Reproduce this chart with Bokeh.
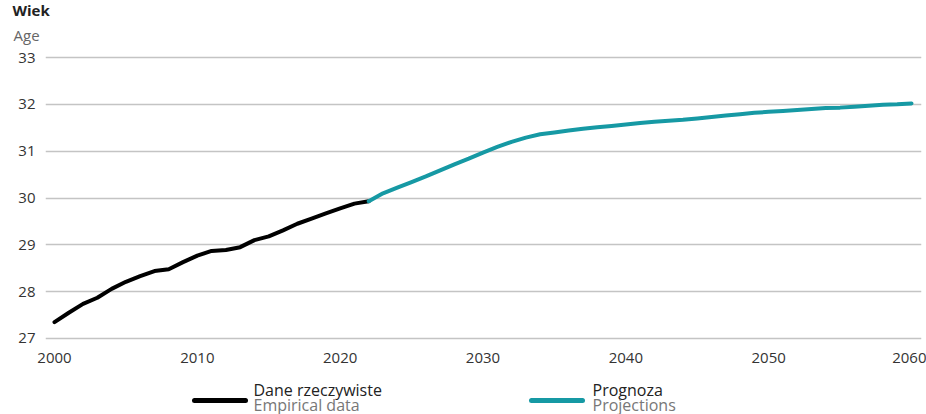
from bokeh.plotting import figure
from bokeh.models import Range1d, FixedTicker, Title
from bokeh.layouts import column
from bokeh.core.properties import value
from bokeh.embed import file_html
from bokeh.resources import INLINE

# ---- data ----
emp_years = list(range(2000, 2023))
emp_age = [27.35, 27.55, 27.74, 27.87, 28.06, 28.21, 28.33, 28.44, 28.48, 28.63,
           28.77, 28.87, 28.89, 28.95, 29.10, 29.18, 29.31, 29.45, 29.56, 29.67,
           29.78, 29.88, 29.93]
proj_years = list(range(2022, 2061))
proj_age = [29.93, 30.10, 30.22, 30.34, 30.46, 30.59, 30.72, 30.84, 30.97, 31.09,
            31.20, 31.29, 31.36, 31.40, 31.44, 31.48, 31.51, 31.54, 31.57, 31.60,
            31.63, 31.65, 31.67, 31.70, 31.73, 31.76, 31.79, 31.82, 31.84, 31.86,
            31.88, 31.90, 31.92, 31.93, 31.95, 31.97, 31.99, 32.00, 32.02]
x_ticks = [2000, 2010, 2020, 2030, 2040, 2050, 2060]
y_ticks = [27, 28, 29, 30, 31, 32, 33]
y_title_pl = "Wiek"
y_title_en = "Age"
leg_pl = ["Dane rzeczywiste", "Prognoza"]
leg_en = ["Empirical data", "Projections"]

BLACK = "#000000"
TEAL = "#1699a4"
FONT = "Open Sans"

W = 926
FL, FR = 45, 921          # frame left/right (page px)
FT, FB = 50, 345          # frame top/bottom (page px)
H1 = 366
H2 = 414 - H1

# ---- main chart ----
p = figure(width=W, height=H1, x_range=Range1d(1999.37, 2060.70),
           y_range=Range1d(26.85, 33.15), output_backend="svg",
           toolbar_location=None, min_border_left=FL, min_border_right=W - FR,
           min_border_top=FT, min_border_bottom=H1 - FB)
p.outline_line_color = None
p.background_fill_color = "white"
p.border_fill_color = "white"

for ax in (p.xaxis[0], p.yaxis[0]):
    ax.axis_line_color = None
    ax.major_tick_line_color = None
    ax.minor_tick_line_color = None
    ax.major_label_text_font = FONT
    ax.major_label_text_font_size = "15px"
    ax.major_label_text_color = "#333333"
p.xaxis.ticker = FixedTicker(ticks=x_ticks)
p.yaxis.ticker = FixedTicker(ticks=y_ticks)
p.xaxis.major_label_standoff = 1
p.yaxis.major_label_standoff = 4
p.xgrid.grid_line_color = None
p.ygrid.grid_line_color = "#c4c4c4"
p.ygrid.grid_line_width = 1.3

p.line(emp_years, emp_age, line_color=BLACK, line_width=4, line_join="round", line_cap="round")
p.line(proj_years, proj_age, line_color=TEAL, line_width=4, line_join="round", line_cap="round")

# axis caption as two stacked titles (first added sits closest to the frame)
p.add_layout(Title(text=y_title_en, align="left", offset=13 - FL, standoff=12,
                   text_font=FONT, text_font_size="15px", text_font_style="normal",
                   text_color="#666666"), "above")
p.add_layout(Title(text=y_title_pl, align="left", offset=12 - FL, standoff=-6,
                   text_font=FONT, text_font_size="15px", text_font_style="bold",
                   text_color="#222222"), "above")

# ---- legend strip (data coords = page px) ----
top = H1
lg = figure(width=W, height=H2, x_range=Range1d(FL, FR), y_range=Range1d(top + H2, top),
            output_backend="svg", toolbar_location=None, min_border=0,
            min_border_left=FL, min_border_right=W - FR)
lg.axis.visible = False
lg.grid.visible = False
lg.outline_line_color = None

sw_x = [194, 531]
colors = [BLACK, TEAL]
for i in range(2):
    lg.line([sw_x[i], sw_x[i] + 51], [400, 400], line_color=colors[i], line_width=5, line_cap="round")
lg.text(x=[253, 592], y=[389, 389], text=leg_pl,
        text_font=value(FONT), text_font_size="16px", text_color="#222222",
        text_baseline="middle")
lg.text(x=[253, 592], y=[404, 404], text=leg_en,
        text_font=value(FONT), text_font_size="16px", text_color="#777777",
        text_baseline="middle")

layout = column(p, lg, spacing=0)
open("out.html", "w").write(file_html(layout, INLINE))
